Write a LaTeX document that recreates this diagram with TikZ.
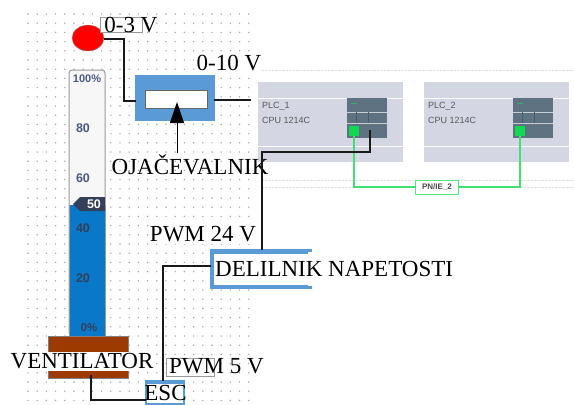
\documentclass[tikz,border=0pt]{standalone}
\usepackage{fontspec}
\setmainfont{Liberation Serif}
\setsansfont{Liberation Sans}
\usetikzlibrary{arrows.meta,shapes.geometric}
\definecolor{ampblue}{HTML}{5B9BD5}
\definecolor{gaugeblue}{HTML}{0A78C8}
\definecolor{gaugetext}{HTML}{4A5A80}
\definecolor{fanbrown}{HTML}{9C3A00}
\definecolor{panelgray}{HTML}{D5D6E3}
\definecolor{modulegray}{HTML}{5F7282}
\definecolor{portgreen}{HTML}{10D850}
\tikzset{
  box/.style={inner sep=0pt,outer sep=0pt,minimum width=#1},
  bigtext/.style={inner sep=0pt,font=\fontsize{23}{23}\selectfont},
  whitetext/.style={bigtext,fill=white},
  gaugetick/.style={inner sep=0pt,text=gaugetext,font=\sffamily\bfseries\fontsize{12.5}{13}\selectfont},
  plctext/.style={inner sep=0pt,anchor=west,text=black!65,font=\sffamily\fontsize{9}{10}\selectfont},
  wire/.style={line width=2pt,black!90},
  greenwire/.style={line width=1.4pt,portgreen!80!white}
}
\begin{document}
\begin{tikzpicture}[x=1pt,y=-1pt]
\useasboundingbox (0,0) rectangle (574,405);
% dotted background
\foreach \xpos in {0,...,24} \foreach \ypos in {0,...,42}
  \fill[black!35] (28+\xpos*9.2,14+\ypos*9.2) circle (0.8pt);
\foreach \ypos in {70,180,187}
  \draw[black!12,densely dotted] (262,\ypos) -- (574,\ypos);
% gauge
\draw[black!40,line width=1pt,fill=white!97!black,rounded corners=3pt] (69,70) rectangle (105,336);
\fill[gaugeblue] (69.5,205) rectangle (104.5,336);
\draw[black!40,line width=1pt] (69,205) -- (69,336) (105,205) -- (105,336);
\node[gaugetick,font=\sffamily\bfseries\fontsize{11}{11}\selectfont] (t100) at (87,79) {100\%};
\node[gaugetick] (t80) at (83,128) {80};
\node[gaugetick] (t60) at (83,178) {60};
\fill[gaugetext!70!black] (73,204) -- (80,197) -- (105,197) -- (105,211) -- (80,211) -- cycle;
\node[gaugetick,text=white] (t50) at (94,204) {50};
\node[gaugetick,text=gaugetext!70!black] (t40) at (83,228) {40};
\node[gaugetick,text=gaugetext!70!black] (t20) at (83,278) {20};
\node[gaugetick,text=gaugetext!70!black,font=\sffamily\bfseries\fontsize{11.5}{12}\selectfont] (t0) at (89,328) {0\%};
% fan
\node[box=80pt,minimum height=42pt,fill=fanbrown,draw=black!50] (fan) at (88,357) {};
\node[whitetext,minimum width=144pt,minimum height=19pt] (fantext) at (82,361) {VENTILATOR};
% lamp and amplifier
\node[ellipse,box=32pt,minimum height=26pt,fill=red,draw=black!40] (lamp) at (88,38) {};
\node[box=42pt,minimum height=15pt,draw=black!40,fill=white] (lampbox) at (121,25) {};
\node[bigtext] (lamptext) at (131,25) {0-3 V};
\node[box=80pt,minimum height=46pt,fill=ampblue] (amp) at (175,98) {};
\node[box=62pt,minimum height=18pt,fill=white,draw=black!60] (slot) at (176,99) {};
\node[whitetext,minimum width=66pt,minimum height=19pt] (amptop) at (229,63) {0-10 V};
% plc panels
\foreach \name/\xpos/\title in {one/258/PLC\_1,two/424/PLC\_2}{
  \fill[panelgray] (\xpos,82) rectangle ++(145,80);
  \draw[white,line width=1pt] (\xpos,98) -- ++(145,0) (\xpos,146) -- ++(145,0);
  \node[plctext] (title\name) at (\xpos+4,106) {\title};
  \node[plctext] (cpu\name) at (\xpos+4,120) {CPU 1214C};
  \node[box=40pt,minimum height=40pt,fill=modulegray] (mod\name) at (\xpos+109,118) {};
  \draw[white!65!modulegray,line width=0.7pt] (\xpos+89,112) -- ++(40,0) (\xpos+89,123) -- ++(40,0);
  \draw[black!20!modulegray,line width=0.5pt] (\xpos+98,112) -- ++(0,11) (\xpos+110,112) -- ++(0,11);
  \draw[portgreen!60!modulegray,line width=1pt] (\xpos+93,103) -- ++(6,0);
  \node[box=10pt,minimum height=10pt,fill=portgreen] (port\name) at (\xpos+96,131) {};
}
\node[box=43pt,minimum height=14pt,fill=white,draw=portgreen!70!white,line width=0.8pt,
  font=\sffamily\bfseries\fontsize{8}{8}\selectfont,text=black!70] (net) at (437,187) {PN/IE\_2};
\draw[greenwire] (portone.south) |- (net.west);
\draw[greenwire] (porttwo.south) |- (net.east);
% divider and esc
\node[box=102pt,minimum height=40pt,fill=ampblue] (divider) at (261,269) {};
\fill[white] (214,254) rectangle (313,285);
\fill[white] (308,252) rectangle (313,286);
\node[bigtext,anchor=west] (dividertext) at (215,269) {DELILNIK NAPETOSTI};
\node[box=40pt,minimum height=25pt,fill=ampblue] (esc) at (165,392.5) {};
\fill[white] (147,384) rectangle (183,402.5);
\node[bigtext] (esctext) at (165.5,392.5) {ESC};
\node[whitetext,minimum width=106pt,minimum height=19pt] (pwmhigh) at (203,234) {PWM 24 V};
\node[box=48pt,minimum height=18pt,draw=black!40,fill=white] (pwmbox) at (190,367) {};
\node[bigtext,anchor=west] (pwmlow) at (169,366) {PWM 5 V};
\node[bigtext] (amptext) at (190,165) {OJAČEVALNIK};
% wires
\coordinate (plcout) at (370,130);
\coordinate (plcturn) at (262,152);
\coordinate (lampturn) at (124,39);
\coordinate (ampin) at (136,101);
\coordinate (ampout) at (214,100);
\coordinate (plcin) at (251,100);
\coordinate (divtop) at (262,250);
\coordinate (divleft) at (211,266);
\coordinate (esctop) at (163,381);
\coordinate (escleft) at (146,400);
\coordinate (fanout) at (91,375);
\coordinate (arrowtail) at (177,153);
\coordinate (arrowhead) at (177,102);
\draw[wire] (lamp.east |- lampturn) -- (lampturn) -- (lampturn |- ampin) -- (ampin);
\draw[wire] (ampout) -- (plcin);
\draw[wire] (plcout) |- (plcturn) -- (divtop);
\draw[wire] (divleft) -| (esctop);
\draw[wire] (fanout) |- (escleft);
\draw[-{Triangle[length=21pt,width=14pt]},line width=1pt] (arrowtail) -- (arrowhead);
\end{tikzpicture}
\end{document}
